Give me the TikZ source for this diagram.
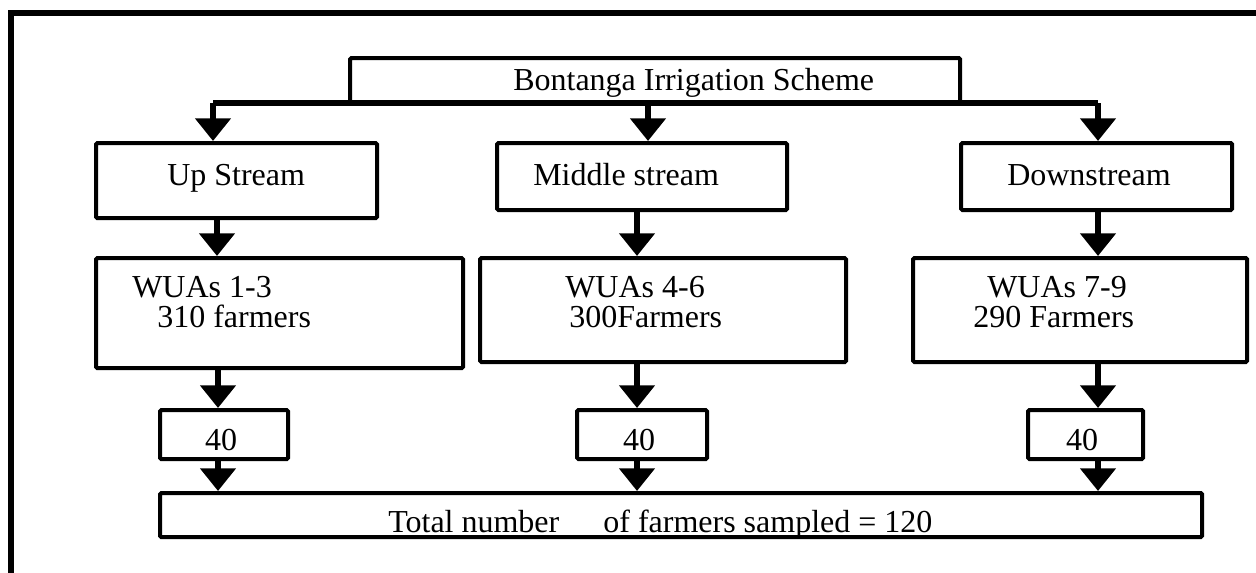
\documentclass[tikz,border=0pt]{standalone}
\usepackage{fontspec}
\setmainfont{Liberation Serif}
\usetikzlibrary{arrows.meta,fit}

\tikzset{
  frame/.style={line width=4.5pt},
  box/.style={draw, line width=3pt, rounded corners=1pt, inner sep=0pt, fit={#1}},
  txt/.style={inner sep=0pt, anchor=base west, font=\fontsize{24}{28}\selectfont},
  num/.style={inner sep=0pt, anchor=base, font=\fontsize{24}{28}\selectfont},
  wire/.style={line width=4.2pt},
  arrow/.style={line width=5.2pt, -{Triangle[length=17pt,width=26pt]}}
}

\begin{document}
\begin{tikzpicture}[x=0.75pt,y=-0.75pt]
  \clip (0,0) rectangle (1256,572);
  \fill[white] (0,0) rectangle (1256,572);

  % outer frame (runs past the right and bottom edges)
  \draw[frame] (11,620) -- (11,13) -- (1300,13);

  % boxes
  \node[box={(350,58) (960,103)}] (scheme) {};
  \node[box={(96,143) (377,218)}] (up) {};
  \node[box={(497,143) (787,210)}] (mid) {};
  \node[box={(961,143) (1232,210)}] (down) {};
  \node[box={(96,258) (463,368)}] (wua1) {};
  \node[box={(480,258) (846,362)}] (wua2) {};
  \node[box={(913,258) (1247,362)}] (wua3) {};
  \node[box={(160,410) (288,459)}] (s1) {};
  \node[box={(577,410) (707,459)}] (s2) {};
  \node[box={(1028,410) (1143,459)}] (s3) {};
  \node[box={(160,493) (1202,537)}] (total) {};

  % texts
  \node[txt] (tscheme) at (513,90) {Bontanga Irrigation Scheme};
  \node[txt] (tup) at (167,185) {Up Stream};
  \node[txt] (tmid) at (533,185) {Middle stream};
  \node[txt] (tdown) at (1007,185) {Downstream};
  \node[txt] (tw1a) at (132,297) {WUAs 1-3};
  \node[txt] (tw1b) at (157,327) {310 farmers};
  \node[txt] (tw2a) at (565,297) {WUAs 4-6};
  \node[txt] (tw2b) at (569,327) {300Farmers};
  \node[txt] (tw3a) at (987,297) {WUAs 7-9};
  \node[txt] (tw3b) at (973,327) {290 Farmers};
  \node[num] (ts1) at (221,450) {40};
  \node[num] (ts2) at (639,450) {40};
  \node[num] (ts3) at (1082,450) {40};
  \node[txt] (ttotal) at (388,532) {Total number\hspace{33pt}of farmers sampled = 120};

  % branching from the scheme box
  \coordinate (ja) at (213,103);
  \coordinate (jb) at (648,103);
  \coordinate (jc) at (1098,103);
  \draw[wire] (ja) -- (jc);
  \draw[arrow] (ja) -- (ja |- up.north);
  \draw[arrow] (jb) -- (jb |- mid.north);
  \draw[arrow] (jc) -- (jc |- down.north);

  % columns
  \coordinate (c1) at (217,0);
  \coordinate (c1b) at (218,0);
  \coordinate (c2) at (637,0);
  \coordinate (c3) at (1098,0);

  \draw[arrow] (c1 |- up.south) -- (c1 |- wua1.north);
  \draw[arrow] (c2 |- mid.south) -- (c2 |- wua2.north);
  \draw[arrow] (c3 |- down.south) -- (c3 |- wua3.north);

  \draw[arrow] (c1b |- wua1.south) -- (c1b |- s1.north);
  \draw[arrow] (c2 |- wua2.south) -- (c2 |- s2.north);
  \draw[arrow] (c3 |- wua3.south) -- (c3 |- s3.north);

  \draw[arrow] (c1b |- s1.south) -- (c1b |- total.north);
  \draw[arrow] (c2 |- s2.south) -- (c2 |- total.north);
  \draw[arrow] (c3 |- s3.south) -- (c3 |- total.north);
\end{tikzpicture}
\end{document}
